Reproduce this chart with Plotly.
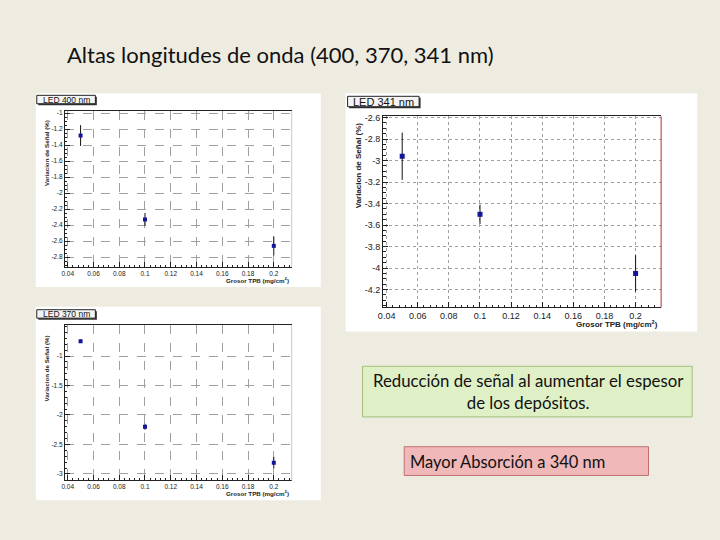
import plotly.graph_objects as go

# ---------------- data ----------------
x_vals = [0.05, 0.1, 0.2]

y_400 = [-1.28, -2.33, -2.66]
e_400 = [0.13, 0.08, 0.12]

y_341 = [-2.96, -3.50, -4.05]
e_341 = [0.22, 0.09, 0.17]

y_370 = [-0.75, -2.20, -2.81]
e_370 = [0.03, 0.05, 0.10]

x_ticks = [0.04, 0.06, 0.08, 0.1, 0.12, 0.14, 0.16, 0.18, 0.2]
y_ticks_400 = [-1, -1.2, -1.4, -1.6, -1.8, -2, -2.2, -2.4, -2.6, -2.8]
y_ticks_341 = [-2.6, -2.8, -3, -3.2, -3.4, -3.6, -3.8, -4, -4.2]
y_ticks_370 = [-1, -1.5, -2, -2.5, -3]

title_text = "Altas longitudes de onda (400, 370, 341 nm)"
ytitle = "Variacion de Señal (%)"
xtitle = "Grosor TPB (mg/cm<sup>2</sup>)"
labels = ["LED 400 nm", "LED 341 nm", "LED 370 nm"]
note1 = "Reducción de señal al aumentar el espesor<br>de los depósitos."
note2 = "Mayor Absorción a 340 nm"

W, H = 720, 540
def fx(p): return p / W
def fy(p): return 1 - p / H

BG = "#EEECE1"
fig = go.Figure()

panels = [
    dict(y=y_400, e=e_400, yticks=y_ticks_400, frame=(60.3, 288.7, 108.3, 265), panel=(31, 318, 90, 285),
         xr=[0.0378, 0.2139], yr=[-2.925, -0.979], mdy=0.05, fs=6.5, tfs=6.2, dash="dash", rc="#C8C8C8", ms=4,
         lab=(32, 91, 92, 100.5), labfs=8.5,
         yt=(42, 150.5), xt=(288, 278)),
    dict(y=y_341, e=e_341, yticks=y_ticks_341, frame=(380.7, 660.7, 113.3, 305.7), panel=(343, 697, 90, 330),
         xr=[0.0377, 0.2164], yr=[-4.366, -2.59], mdy=0.05, fs=9, tfs=8, dash="dot", rc="#B03030", ms=5,
         lab=(345, 417, 93, 103.5), labfs=11,
         yt=(355.5, 162.5), xt=(660, 322.5)),
    dict(y=y_370, e=e_370, yticks=y_ticks_370, frame=(60.3, 288.7, 323.5, 480), panel=(31, 318, 305, 500),
         xr=[0.0378, 0.2139], yr=[-3.11, -0.476], mdy=0.1, fs=6.5, tfs=6.2, dash="dash", rc="#C8C8C8", ms=4,
         lab=(32, 91, 308, 316.5), labfs=8.5,
         yt=(42, 367.5), xt=(288, 493)),
]

shapes = []
annotations = []

for i, p in enumerate(panels):
    n = "" if i == 0 else str(i + 1)
    x0, x1, y0, y1 = p["frame"]
    px0, px1, py0, py1 = p["panel"]
    shapes.append(dict(type="rect", xref="paper", yref="paper", layer="below",
                       x0=fx(px0), x1=fx(px1), y0=fy(py1), y1=fy(py0),
                       fillcolor="white", line=dict(width=0)))
    fig.add_trace(go.Scatter(
        x=x_vals, y=p["y"], mode="markers",
        marker=dict(symbol="square", size=p["ms"], color="#14149C"),
        error_y=dict(type="data", array=p["e"], visible=True, color="#111111", thickness=1, width=0),
        xaxis="x" + n, yaxis="y" + n, showlegend=False, cliponaxis=False))
    tickfont = dict(family="Liberation Sans", size=p["fs"], color="#1A1A1A")
    fig.layout["xaxis" + n] = dict(
        domain=[fx(x0), fx(x1)], anchor="y" + n, range=p["xr"],
        tickmode="array", tickvals=x_ticks, ticktext=[f"{v:g}" for v in x_ticks],
        ticks="inside", ticklen=5, tickcolor="#222",
        showline=True, linecolor="#222", linewidth=1, mirror=True,
        showgrid=True, gridcolor="#A0A0A0", griddash=p["dash"], gridwidth=1,
        zeroline=False, tickfont=tickfont, ticklabelstandoff=0,
        minor=dict(tick0=0, dtick=0.004, ticks="inside", ticklen=2.5, tickcolor="#222", showgrid=False))
    fig.layout["yaxis" + n] = dict(
        domain=[fy(y1), fy(y0)], anchor="x" + n, range=p["yr"],
        tickmode="array", tickvals=p["yticks"], ticktext=[f"{v:g}" for v in p["yticks"]],
        ticks="inside", ticklen=5, tickcolor="#222",
        showline=True, linecolor="#222", linewidth=1,
        showgrid=True, gridcolor="#A0A0A0", griddash=p["dash"], gridwidth=1,
        zeroline=False, tickfont=tickfont, ticklabelstandoff=0,
        minor=dict(tick0=0, dtick=p["mdy"], ticks="inside", ticklen=2.5, tickcolor="#222", showgrid=False))
    shapes.append(dict(type="line", xref="paper", yref="paper",
                       x0=fx(x1), x1=fx(x1), y0=fy(y1), y1=fy(y0),
                       line=dict(color=p["rc"], width=1)))
    lx0, lx1, ly0, ly1 = p["lab"]
    shapes.append(dict(type="rect", xref="paper", yref="paper",
                       x0=fx(lx0 + 1.5), x1=fx(lx1 + 1.5), y0=fy(ly1 + 1.5), y1=fy(ly0 + 1.5),
                       fillcolor="#333333", line=dict(width=0)))
    shapes.append(dict(type="rect", xref="paper", yref="paper",
                       x0=fx(lx0), x1=fx(lx1), y0=fy(ly1), y1=fy(ly0),
                       fillcolor="#F4F4F4", line=dict(color="#222", width=1)))
    annotations.append(dict(text=labels[i], xref="paper", yref="paper",
                            x=fx((lx0 + lx1) / 2), y=fy((ly0 + ly1) / 2),
                            xanchor="center", yanchor="middle", showarrow=False,
                            font=dict(family="Liberation Sans", size=p["labfs"], color="#111")))
    annotations.append(dict(text="<b>" + ytitle + "</b>", xref="paper", yref="paper",
                            x=fx(p["yt"][0]), y=fy(p["yt"][1]), textangle=-90,
                            xanchor="center", yanchor="middle", showarrow=False,
                            font=dict(family="Liberation Sans", size=p["tfs"], color="#222")))
    annotations.append(dict(text="<b>" + xtitle + "</b>", xref="paper", yref="paper",
                            x=fx(p["xt"][0]), y=fy(p["xt"][1]),
                            xanchor="right", yanchor="middle", showarrow=False,
                            font=dict(family="Liberation Sans", size=p["tfs"], color="#222")))

shapes.append(dict(type="rect", xref="paper", yref="paper",
                   x0=fx(360), x1=fx(692), y0=fy(416), y1=fy(365),
                   fillcolor="#DFF0C6", line=dict(color="#A3BE7A", width=1)))
annotations.append(dict(text=note1, xref="paper", yref="paper",
                        x=fx(527), y=fy(390.5), xanchor="center", yanchor="middle",
                        showarrow=False, align="center",
                        font=dict(family="Lato", size=16.8, color="#111")))
shapes.append(dict(type="rect", xref="paper", yref="paper",
                   x0=fx(402), x1=fx(648), y0=fy(475), y1=fy(446),
                   fillcolor="#F0B8B8", line=dict(color="#C07070", width=1)))
annotations.append(dict(text=note2, xref="paper", yref="paper",
                        x=fx(406), y=fy(461.5), xanchor="left", yanchor="middle",
                        showarrow=False,
                        font=dict(family="Lato", size=16.5, color="#111")))
annotations.append(dict(text=title_text, xref="paper", yref="paper",
                        x=fx(60), y=fy(51), xanchor="left", yanchor="middle",
                        showarrow=False,
                        font=dict(family="Lato", size=22, color="#111")))

fig.update_layout(width=W, height=H, margin=dict(l=0, r=0, t=0, b=0),
                  paper_bgcolor=BG, plot_bgcolor="white",
                  shapes=shapes, annotations=annotations)

fig.write_html("out.html", config={"displayModeBar": False},
               post_script="document.body.style.margin='0';document.body.style.overflow='hidden';")
